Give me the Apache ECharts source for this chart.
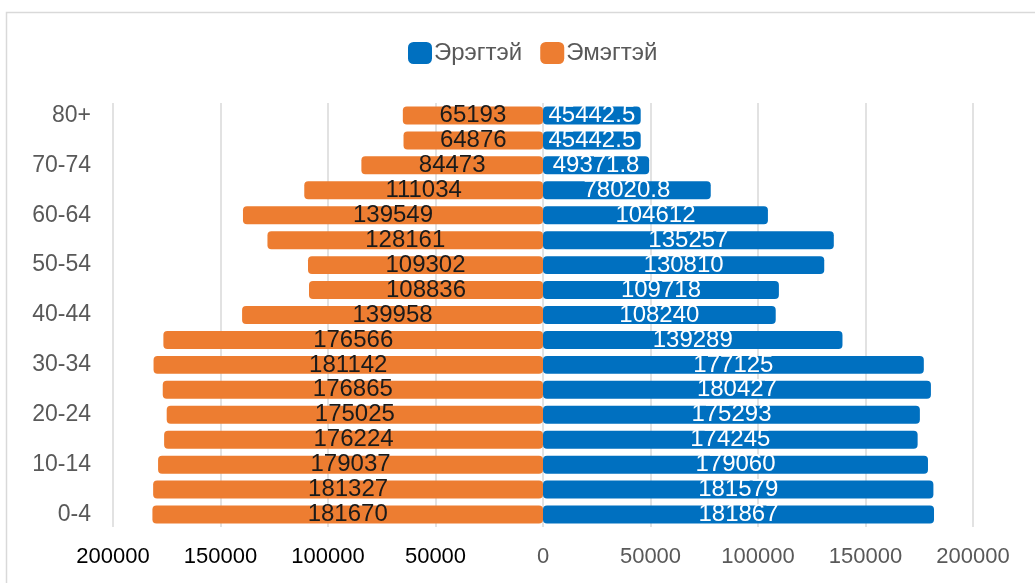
<!DOCTYPE html>
<html><head><meta charset="utf-8">
<script src="https://cdn.jsdelivr.net/npm/echarts@6/dist/echarts.min.js"></script>
<style>html,body{margin:0;padding:0;background:#fff}#c{width:1035px;height:583px}</style>
</head><body><div id="c"></div>
<script>
const categories = ['0-4','5-9','10-14','15-19','20-24','25-29','30-34','35-39','40-44','45-49','50-54','55-59','60-64','65-69','70-74','75-79','80+'];
const male = [181867,181579,179060,174245,175293,180427,177125,139289,108240,109718,130810,135257,104612,78020.8,49371.8,45442.5,45442.5];
const female = [181670,181327,179037,176224,175025,176865,181142,176566,139958,108836,109302,128161,139549,111034,84473,64876,65193];
const seriesNames = ['Эрэгтэй','Эмэгтэй'];
const xTicks = [-200000,-150000,-100000,-50000,0,50000,100000,150000,200000];

const FONT = 'Liberation Sans, Arial, sans-serif';
const chart = echarts.init(document.getElementById('c'), null, {renderer:'canvas'});
chart.setOption({
  animation:false,
  backgroundColor:'#fff',
  graphic:[{type:'rect',shape:{x:6.5,y:12.5,width:1040,height:600},style:{fill:'none',stroke:'#d9d9d9',lineWidth:1.5},z:-10}],
  legend:{top:36,left:403,itemWidth:24,itemHeight:22,itemGap:18,
    icon:'roundRect',
    textStyle:{fontFamily:FONT,fontSize:24,color:'#595959',padding:[0,0,0,-3]},
    data:seriesNames},
  grid:{left:113,right:62,top:103,bottom:56,containLabel:false},
  xAxis:{type:'value',min:xTicks[0],max:xTicks[xTicks.length-1],interval:50000,
    axisLine:{show:false},axisTick:{show:false},
    splitLine:{show:true,lineStyle:{color:'#d9d9d9',width:1.5}},
    axisLabel:{margin:19,fontFamily:FONT,fontSize:22,
      formatter:v=> v<0 ? '{d|'+Math.abs(v)+'}' : '{g|'+v+'}',
      rich:{d:{color:'#000',fontFamily:FONT,fontSize:22},g:{color:'#595959',fontFamily:FONT,fontSize:22}}}},
  yAxis:{type:'category',data:categories,
    axisLine:{show:false,onZero:false},axisTick:{show:false},
    axisLabel:{interval:1,margin:22,fontFamily:FONT,fontSize:23,color:'#595959'}},
  series:[
    {name:seriesNames[0],type:'bar',data:male,barWidth:'72%',barGap:'-100%',
     itemStyle:{color:'#0070C0',borderRadius:4},
     label:{show:true,position:'inside',color:'#fff',fontFamily:FONT,fontSize:24}},
    {name:seriesNames[1],type:'bar',data:female.map(v=>-v),barWidth:'72%',
     itemStyle:{color:'#ED7D31',borderRadius:4},
     label:{show:true,position:'inside',color:'#1a1a1a',fontFamily:FONT,fontSize:24,
       formatter:p=>String(Math.abs(p.value))}}
  ]
});
</script></body></html>
